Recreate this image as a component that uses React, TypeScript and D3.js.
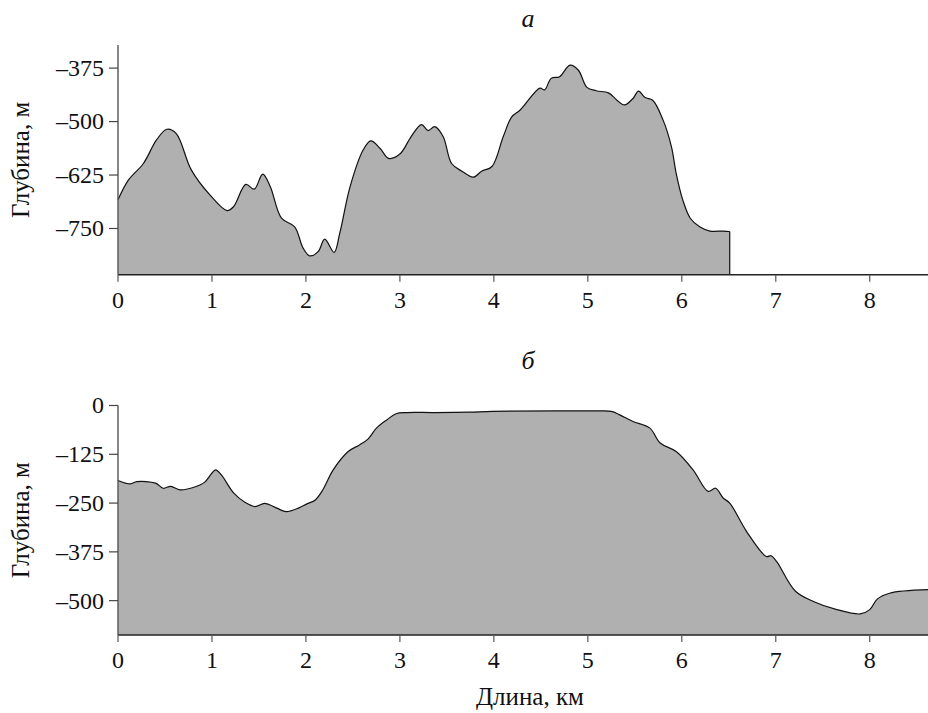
import React from 'react';
import * as d3 from 'd3';

// profile "а": distance (km) and depth (m)
const kmA = [0, 0.11, 0.27, 0.41, 0.52, 0.62, 0.78, 0.98, 1.16, 1.23, 1.36, 1.45, 1.54, 1.62, 1.74, 1.88, 1.97, 2.04, 2.13, 2.2, 2.3, 2.36, 2.47, 2.61, 2.69, 2.79, 2.88, 3.0, 3.12, 3.23, 3.3, 3.37, 3.46, 3.55, 3.66, 3.78, 3.87, 3.98, 4.1, 4.19, 4.28, 4.49, 4.54, 4.61, 4.7, 4.81, 4.9, 4.99, 5.09, 5.22, 5.31, 5.39, 5.48, 5.54, 5.61, 5.69, 5.8, 5.89, 5.94, 6.01, 6.09, 6.19, 6.3, 6.44, 6.51];
const depthA = [-683, -637, -598, -543, -518, -528, -613, -672, -708, -699, -647, -658, -623, -652, -726, -746, -796, -814, -804, -775, -806, -761, -652, -566, -545, -563, -586, -576, -535, -507, -521, -512, -535, -598, -616, -630, -616, -605, -535, -489, -473, -422, -426, -399, -395, -368, -380, -420, -428, -433, -450, -461, -446, -429, -444, -450, -496, -559, -621, -683, -726, -746, -756, -756, -757];

// profile "б"
const kmB = [0, 0.13, 0.2, 0.4, 0.48, 0.56, 0.66, 0.8, 0.92, 1.0, 1.04, 1.1, 1.23, 1.35, 1.46, 1.56, 1.69, 1.79, 1.92, 2.01, 2.1, 2.18, 2.29, 2.45, 2.57, 2.66, 2.75, 2.86, 2.96, 3.07, 3.36, 3.74, 3.99, 5.06, 5.25, 5.34, 5.48, 5.66, 5.77, 5.94, 6.12, 6.28, 6.36, 6.44, 6.51, 6.69, 6.9, 6.95, 7.01, 7.21, 7.4, 7.65, 7.9, 8.0, 8.08, 8.21, 8.62];
const depthB = [-192, -201, -195, -199, -212, -207, -216, -210, -197, -173, -165, -178, -224, -248, -259, -251, -263, -272, -263, -252, -242, -216, -165, -118, -101, -86, -58, -37, -21, -18, -18, -17, -15, -14, -15, -24, -41, -58, -96, -118, -165, -220, -212, -237, -250, -323, -387, -385, -400, -476, -502, -523, -534, -523, -496, -481, -472];

const kmTicks = [0, 1, 2, 3, 4, 5, 6, 7, 8];
const depthTicksA = [-375, -500, -625, -750];
const depthTicksB = [0, -125, -250, -375, -500];

const W = 928;
const H = 713;
const FONT = "'Liberation Serif'";

const fmt = (v: number) => (v < 0 ? '\u2013' + Math.abs(v) : String(v));

const x = d3.scaleLinear().domain([0, 8.62]).range([118, 928]);

type Pt = [number, number];

const Panel = ({ km, depth, ticks, y, title, titleY, cutoff }: {
  km: number[]; depth: number[]; ticks: number[]; y: d3.ScaleLinear<number, number>; title: string; titleY: number; cutoff: boolean;
}) => {
  const pts: Pt[] = km.map((k, i) => [k, depth[i]]);
  const [y0, yTop] = y.range();
  const curve = d3.curveCatmullRom.alpha(0.5);
  const area = d3.area<Pt>().x(d => x(d[0])).y0(y0).y1(d => y(d[1])).curve(curve);
  const line = d3.line<Pt>().x(d => x(d[0])).y(d => y(d[1])).curve(curve);
  const last = pts[pts.length - 1];
  const [xMin, xMax] = x.range();

  return (
    <g>
      <path d={area(pts) || ''} fill="#b0b0b0" />
      <path d={line(pts) || ''} fill="none" stroke="#111" strokeWidth={1.2} />
      {cutoff && (
        <line x1={x(last[0])} x2={x(last[0])} y1={y(last[1])} y2={y0} stroke="#111" strokeWidth={1.2} />
      )}

      {/* x axis */}
      <line x1={xMin} x2={xMax} y1={y0} y2={y0} stroke="#222" strokeWidth={1.6} />
      {kmTicks.map(t => (
        <g key={t} transform={`translate(${x(t)},${y0})`}>
          <line y2={7} stroke="#555" strokeWidth={1.2} />
          <text y={33} textAnchor="middle" fill="#111" style={{ fontFamily: FONT, fontSize: '24px' }}>{t}</text>
        </g>
      ))}

      {/* y axis */}
      <line x1={xMin} x2={xMin} y1={yTop} y2={y0} stroke="#555" strokeWidth={1.4} />
      {ticks.map(t => (
        <g key={t} transform={`translate(${xMin},${y(t)})`}>
          <line x2={-9} stroke="#444" strokeWidth={1.2} />
          <text x={-14} dy="0.33em" textAnchor="end" fill="#111" style={{ fontFamily: FONT, fontSize: '24px' }}>{fmt(t)}</text>
        </g>
      ))}

      <text transform={`translate(29,${(y0 + yTop) / 2}) rotate(-90)`} textAnchor="middle" fill="#111"
        style={{ fontFamily: FONT, fontSize: '25px' }}>Глубина, м</text>

      <text x={528} y={titleY} textAnchor="middle" fill="#111"
        style={{ fontFamily: FONT, fontSize: '26px', fontStyle: 'italic' }}>{title}</text>
    </g>
  );
};

const App = () => {
  const yA = d3.scaleLinear().domain([-858, -321]).range([274.7, 45]);
  const yB = d3.scaleLinear().domain([-588, 0]).range([635, 405.5]);

  return (
    <svg width={W} height={H} style={{ position: 'absolute', left: 0, top: 0, background: '#fff' }}>
      <Panel km={kmA} depth={depthA} ticks={depthTicksA} y={yA} title="а" titleY={27} cutoff={true} />
      <Panel km={kmB} depth={depthB} ticks={depthTicksB} y={yB} title="б" titleY={369} cutoff={false} />
      <text x={530} y={705} textAnchor="middle" fill="#111" style={{ fontFamily: FONT, fontSize: '25px' }}>Длина, км</text>
    </svg>
  );
};

export default App;
